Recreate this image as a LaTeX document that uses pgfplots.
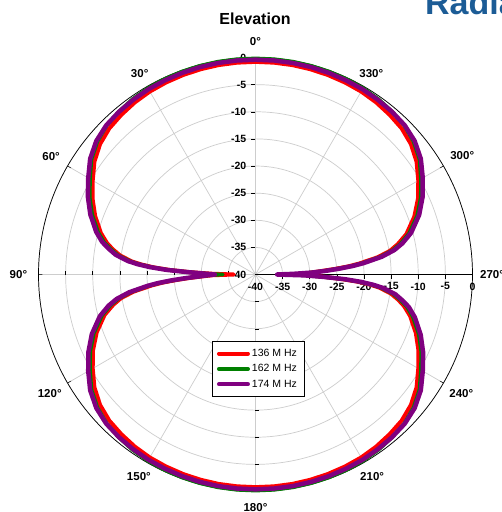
\documentclass[border=0pt]{standalone}
\usepackage{fontspec}
\setmainfont{Liberation Sans}
\usepackage{pgfplots}
\pgfplotsset{compat=1.18}
\usepackage{pgfplotstable}
\usepgfplotslibrary{polar}
\definecolor{cRed}{RGB}{255,0,0}
\definecolor{cGreen}{RGB}{0,128,0}
\definecolor{cPurple}{RGB}{128,0,128}
\definecolor{cGrid}{RGB}{205,205,205}
\definecolor{cBlue}{RGB}{28,92,150}

% angle t in degrees (0 = up, counter-clockwise), level d in dB
\pgfplotstableread{
t d
0 -0.80
5 -0.80
10 -0.80
15 -0.83
20 -0.88
25 -0.95
30 -1.05
35 -1.25
40 -1.55
45 -1.90
50 -2.60
55 -3.75
60 -5.35
65 -6.85
70 -8.55
75 -10.50
78 -12.00
80 -13.30
82 -14.80
84 -17.10
85 -18.90
86 -21.20
87 -24.20
88 -28.00
89 -32.00
90 -36.00
91 -32.00
92 -30.20
93 -27.80
94 -25.30
95 -22.80
96 -20.80
98 -17.30
100 -14.80
102 -13.20
105 -11.20
110 -8.85
115 -6.95
120 -5.35
125 -3.75
130 -2.60
135 -1.90
140 -1.55
145 -1.25
150 -1.05
155 -0.95
160 -0.88
165 -0.83
170 -0.80
175 -0.80
180 -0.80
185 -0.80
190 -0.80
195 -0.83
200 -0.88
205 -0.95
210 -1.05
215 -1.25
220 -1.55
225 -1.90
230 -2.60
235 -3.75
240 -5.35
245 -6.85
250 -8.55
255 -10.50
258 -12.00
260 -13.30
262 -14.80
264 -17.10
265 -18.90
266 -21.20
267 -24.20
268 -27.20
269 -30.00
270 -32.00
271 -30.50
272 -29.70
273 -27.80
274 -25.30
275 -22.80
276 -20.80
278 -17.30
280 -14.80
282 -13.20
285 -11.20
290 -8.85
295 -6.95
300 -5.35
305 -3.75
310 -2.60
315 -1.90
320 -1.55
325 -1.25
330 -1.05
335 -0.95
340 -0.88
345 -0.83
350 -0.80
355 -0.80
360 -0.80
}\tabA

\pgfplotstableread{
t d
0 -0.15
5 -0.15
10 -0.15
15 -0.17
20 -0.20
25 -0.25
30 -0.32
35 -0.50
40 -0.80
45 -1.20
50 -1.95
55 -3.10
60 -4.80
65 -6.30
70 -8.00
75 -10.00
78 -11.50
80 -12.90
82 -14.40
84 -16.80
85 -18.60
86 -20.90
87 -23.90
88 -27.80
89 -31.00
90 -34.00
91 -31.50
92 -29.80
93 -27.30
94 -24.90
95 -22.40
96 -20.40
98 -16.90
100 -14.40
102 -12.70
105 -10.70
110 -8.30
115 -6.40
120 -4.80
125 -3.10
130 -1.95
135 -1.20
140 -0.80
145 -0.50
150 -0.32
155 -0.25
160 -0.20
165 -0.17
170 -0.15
175 -0.15
180 -0.15
185 -0.15
190 -0.15
195 -0.17
200 -0.20
205 -0.25
210 -0.32
215 -0.50
220 -0.80
225 -1.20
230 -1.95
235 -3.10
240 -4.80
245 -6.30
250 -8.00
255 -10.00
258 -11.50
260 -12.90
262 -14.40
264 -16.80
265 -18.60
266 -20.90
267 -23.90
268 -27.80
269 -31.00
270 -34.00
271 -31.50
272 -29.80
273 -27.30
274 -24.90
275 -22.40
276 -20.40
278 -16.90
280 -14.40
282 -12.70
285 -10.70
290 -8.30
295 -6.40
300 -4.80
305 -3.10
310 -1.95
315 -1.20
320 -0.80
325 -0.50
330 -0.32
335 -0.25
340 -0.20
345 -0.17
350 -0.15
355 -0.15
360 -0.15
}\tabB

\pgfplotstableread{
t d
0 -0.40
5 -0.40
10 -0.40
15 -0.42
20 -0.45
25 -0.50
30 -0.55
35 -0.68
40 -0.85
45 -1.10
50 -1.70
55 -2.80
60 -4.40
65 -5.90
70 -7.60
75 -9.60
78 -11.10
80 -12.50
82 -14.00
84 -16.40
85 -18.20
86 -20.50
87 -23.50
88 -27.50
89 -30.50
90 -32.50
91 -31.00
92 -29.50
93 -27.00
94 -24.50
95 -22.00
96 -20.00
98 -16.50
100 -14.00
102 -12.30
105 -10.30
110 -7.90
115 -6.00
120 -4.40
125 -2.80
130 -1.70
135 -1.10
140 -0.85
145 -0.68
150 -0.55
155 -0.50
160 -0.45
165 -0.42
170 -0.40
175 -0.40
180 -0.40
185 -0.40
190 -0.40
195 -0.42
200 -0.45
205 -0.50
210 -0.55
215 -0.68
220 -0.85
225 -1.10
230 -1.70
235 -2.80
240 -4.40
245 -5.90
250 -7.60
255 -9.60
258 -11.10
260 -12.50
262 -14.00
264 -16.40
265 -18.20
266 -20.50
267 -23.50
268 -27.50
269 -31.00
270 -36.00
271 -33.00
272 -29.50
273 -27.00
274 -24.50
275 -22.00
276 -20.00
278 -16.50
280 -14.00
282 -12.30
285 -10.30
290 -7.90
295 -6.00
300 -4.40
305 -2.80
310 -1.70
315 -1.10
320 -0.85
325 -0.68
330 -0.55
335 -0.50
340 -0.45
345 -0.42
350 -0.40
355 -0.40
360 -0.40
}\tabC

\begin{document}
\begin{tikzpicture}
\path[use as bounding box, fill=white] (-255.5pt,-237.5pt) rectangle (246.5pt,274.5pt);
\begin{polaraxis}[
  name=pa, at={(0pt,0pt)}, anchor=origin,
  scale only axis, width=434pt, height=434pt,
  clip=false,
  ymin=0, ymax=40,
  xtick={0,30,...,330},
  xticklabels={,,,,,,,,,,,},
  ytick={0,5,...,40},
  yticklabels={-40,-35,-30,-25,-20,-15,-10,-5,0},
  /pgf/number format/assume math mode=true,
  yticklabel style={font=\bfseries\fontsize{10.5}{12}\selectfont, anchor=north, inner sep=0pt, yshift=-12pt},
  major tick length=4pt,
  tick align=outside,
  xtick style={black, line width=0.5pt},
  ytick style={draw=none},
  grid=major,
  major grid style={cGrid, line width=0.7pt},
  axis line style={black, line width=0.7pt},
  legend style={at={(0.399,0.347)}, anchor=north west, draw=black, line width=0.6pt,
    font=\fontsize{10.5}{12}\selectfont, row sep=2.5pt, inner xsep=5pt, inner ysep=6pt,
    legend cell align=left},
  legend image code/.code={\draw[#1, line width=4pt, line cap=round] (0pt,0pt) -- (29pt,0pt);},
]
% angle labels round the outer circle (0 deg up, counter-clockwise)
\begin{scope}[every node/.style={anchor=center, inner sep=0pt, font=\bfseries\fontsize{11.5}{13}\selectfont}]
\node at (axis cs:90,42.9)  {0°};
\node at (axis cs:120,42.7) {30°};
\node at (axis cs:150,43.5) {60°};
\node at (axis cs:180,43.7) {90°};
\node at (axis cs:210,43.8) {120°};
\node at (axis cs:240,43.0) {150°};
\node at (axis cs:270,42.9) {180°};
\node at (axis cs:300,43.0) {210°};
\node at (axis cs:330,43.8) {240°};
\node at (axis cs:0,43.6)   {270°};
\node at (axis cs:30,44.0)  {300°};
\node at (axis cs:60,42.7)  {330°};
\end{scope}
% radial tick marks on the four main spokes
\pgfplotsinvokeforeach{5,10,15,20,25,30,35}{
  \draw[black, line width=0.5pt] (axis cs:90,#1) -- ++(-4pt,0pt);
  \draw[black, line width=0.5pt] (axis cs:180,#1) -- ++(0pt,4pt);
  \draw[black, line width=0.5pt] (axis cs:270,#1) -- ++(4pt,0pt);
  \draw[black, line width=0.5pt] (axis cs:0,#1) -- ++(0pt,-4pt);
}
% radial labels on the upper spoke
\begin{scope}[every node/.style={anchor=east, inner sep=0pt, xshift=-9pt, font=\bfseries\fontsize{10.5}{12}\selectfont}]
\node at (axis cs:90,40) {0};
\node at (axis cs:90,35) {-5};
\node at (axis cs:90,30) {-10};
\node at (axis cs:90,25) {-15};
\node at (axis cs:90,20) {-20};
\node at (axis cs:90,15) {-25};
\node at (axis cs:90,10) {-30};
\node at (axis cs:90,5) {-35};
\node at (axis cs:90,0) {-40};
\end{scope}
\addplot[cRed, line width=4pt, line join=round, line cap=round, no markers]
  table[x expr=\thisrow{t}+90, y expr=\thisrow{d}+40] {\tabA};
\addlegendentry{136 M Hz}
\addplot[cGreen, line width=3.5pt, line join=round, line cap=round, no markers]
  table[x expr=\thisrow{t}+90, y expr=\thisrow{d}+40] {\tabB};
\addlegendentry{162 M Hz}
\addplot[cPurple, line width=4.5pt, line join=round, line cap=round, no markers]
  table[x expr=\thisrow{t}+90, y expr=\thisrow{d}+40] {\tabC};
\addlegendentry{174 M Hz}
\end{polaraxis}
\node[font=\bfseries\fontsize{16}{19}\selectfont] at (-0.5pt,255.5pt) {Elevation};
\node[anchor=base west, inner sep=0pt, text=cBlue, font=\bfseries\fontsize{34}{38}\selectfont] at (169.5pt,259.5pt) {Radiation};
\end{tikzpicture}
\end{document}
